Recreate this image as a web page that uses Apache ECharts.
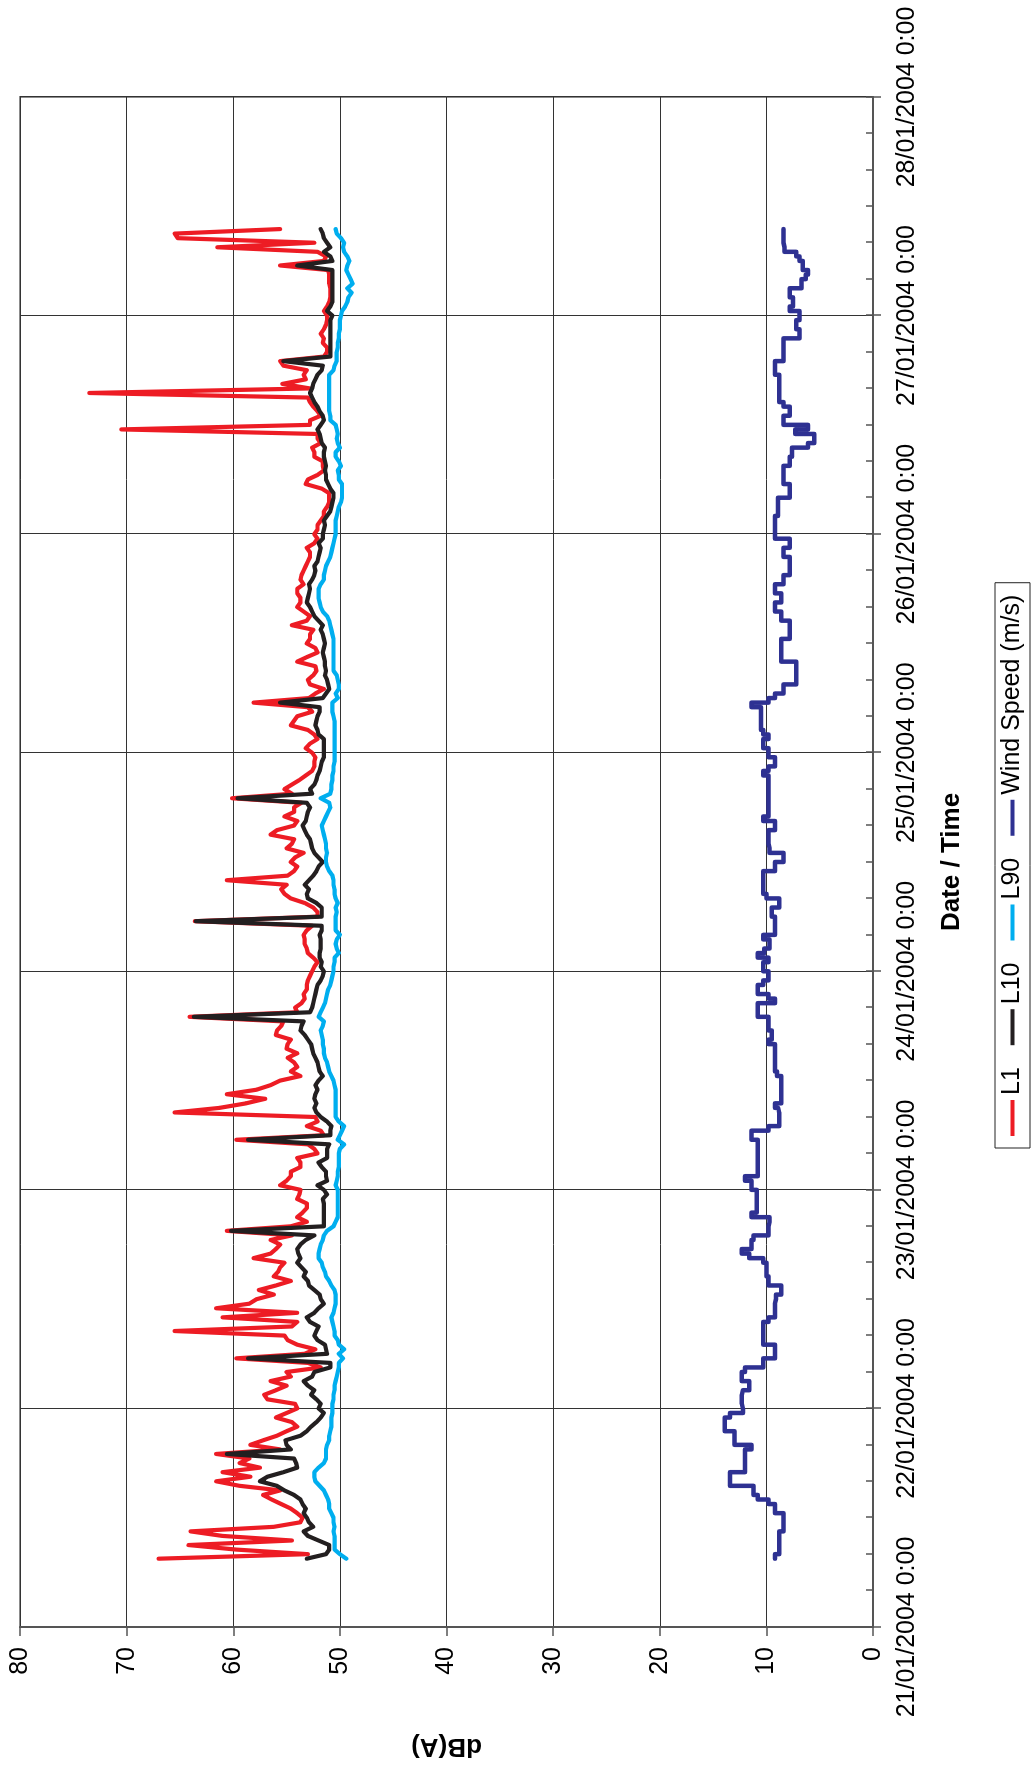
<!DOCTYPE html>
<html>
<head>
<meta charset="utf-8">
<script src="https://cdn.jsdelivr.net/npm/echarts@6/dist/echarts.min.js"></script>
<style>
  html, body { margin: 0; padding: 0; background: #fff; width: 1034px; height: 1772px; overflow: hidden; }
  /* the chart is laid out landscape and turned a quarter turn anticlockwise onto the portrait page */
  #chart { position: absolute; left: 0; top: 0; width: 1772px; height: 1034px;
           transform-origin: 0 0; transform: translateY(1772px) rotate(-90deg); }
</style>
</head>
<body>
<div id="chart"></div>
<script>
// Half-hourly readings, first sample 21/01/2004 07:30 (hours counted from 21/01/2004 0:00)
const startHour = 7.5;
const stepHours = 0.5;

const dayLabels = ['21/01/2004 0:00', '22/01/2004 0:00', '23/01/2004 0:00', '24/01/2004 0:00',
                   '25/01/2004 0:00', '26/01/2004 0:00', '27/01/2004 0:00', '28/01/2004 0:00'];

const seriesNames = ['L1', 'L10', 'L90', 'Wind Speed (m/s)'];

// L1, dB(A) — one row per six hours
const l1 = [
  67.0, 53.0, 59.7, 64.2, 54.5, 61.0, 64.0, 56.2, 53.7, 53.5, 54.0, 54.6,
  55.5, 56.4, 57.2, 55.6, 59.4, 61.6, 58.4, 61.0, 57.5, 59.4, 58.5, 61.6,
  55.6, 58.4, 57.2, 55.9, 55.0, 54.0, 54.5, 56.0, 55.0, 54.0, 54.2, 56.8,
  57.1, 56.0, 55.0, 56.5, 54.6, 55.0, 51.8, 53.0, 59.7, 53.3, 52.3, 54.0,
  54.9, 55.2, 65.5, 54.5, 54.0, 61.0, 54.0, 61.6, 58.5, 57.8, 56.2, 57.6,
  56.0, 54.6, 56.2, 55.8, 55.6, 55.2, 58.1, 56.5, 56.0, 55.6, 56.5, 54.5,
  60.6, 54.6, 53.1, 54.0, 53.5, 53.1, 53.1, 54.0, 53.8, 53.7, 55.6, 55.0,
  54.6, 54.6, 53.7, 53.7, 54.0, 52.1, 52.4, 53.0, 59.7, 51.5, 51.8, 53.1,
  52.1, 52.3, 65.5, 61.3, 58.8, 57.0, 60.6, 57.8, 56.5, 55.6, 53.7, 54.6,
  54.0, 54.3, 54.9, 54.0, 55.0, 54.9, 54.6, 56.0, 55.9, 55.5, 55.3, 64.1,
  54.0, 54.2, 53.6, 53.3, 53.4, 53.1, 53.1, 53.0, 52.8, 52.6, 52.4, 52.1,
  52.5, 53.0, 53.1, 53.3, 53.3, 53.4, 53.1, 52.6, 63.6, 52.1, 52.1, 52.5,
  53.3, 54.6, 55.2, 55.5, 55.0, 60.6, 54.9, 54.3, 54.0, 54.6, 54.2, 53.4,
  55.0, 54.5, 54.3, 56.5, 55.9, 54.3, 54.0, 55.2, 54.3, 54.3, 53.6, 60.1,
  54.5, 55.2, 54.5, 53.8, 53.2, 52.6, 52.4, 52.4, 52.3, 52.6, 53.2, 52.8,
  52.1, 52.4, 53.0, 54.6, 54.3, 54.0, 52.6, 53.0, 58.1, 52.9, 52.3, 51.5,
  52.8, 53.0, 52.5, 52.2, 52.3, 54.0, 53.1, 52.1, 52.3, 53.1, 52.8, 52.8,
  52.5, 54.5, 53.1, 52.8, 53.4, 54.0, 53.7, 53.7, 54.0, 54.0, 53.4, 53.7,
  53.6, 53.4, 53.2, 53.0, 52.8, 52.8, 53.1, 52.4, 52.1, 52.4, 52.1, 52.1,
  51.8, 51.5, 51.5, 51.2, 51.0, 51.0, 51.0, 51.7, 53.2, 53.0, 52.1, 51.5,
  51.6, 51.6, 52.4, 52.4, 52.6, 51.8, 52.1, 52.1, 70.5, 52.8, 52.8, 51.8,
  52.1, 52.5, 52.8, 53.0, 73.5, 52.8, 55.4, 53.2, 53.4, 53.1, 55.3, 55.6,
  51.5, 51.2, 51.2, 51.6, 51.5, 51.8, 51.5, 51.3, 51.2, 51.2, 51.5, 51.2,
  51.0, 50.9, 50.9, 50.9, 51.0, 51.0, 51.0, 51.1, 55.6, 51.5, 51.3, 52.1,
  61.5, 52.4, 65.2, 65.5, 55.6
];

// L10, dB(A)
const l10 = [
  53.1, 51.3, 51.0, 51.0, 52.0, 53.0, 53.4, 52.5, 52.9, 53.1, 53.4, 53.2,
  53.5, 53.7, 54.3, 55.2, 55.9, 57.5, 56.8, 55.3, 54.0, 54.1, 54.3, 60.6,
  54.6, 55.0, 55.1, 53.7, 53.1, 52.7, 52.2, 51.8, 51.5, 52.0, 51.8, 52.2,
  52.7, 52.4, 53.0, 53.4, 52.6, 52.4, 50.9, 50.9, 58.6, 51.2, 51.3, 51.4,
  52.1, 52.4, 52.2, 52.0, 52.8, 53.1, 52.4, 52.0, 51.5, 51.8, 51.9, 52.4,
  52.9, 53.0, 53.4, 53.2, 53.6, 54.0, 53.7, 53.9, 54.0, 53.7, 53.2, 52.4,
  60.2, 51.5, 51.5, 51.5, 51.5, 51.5, 51.5, 51.6, 51.2, 51.5, 52.1, 51.2,
  51.3, 51.3, 51.7, 52.0, 51.2, 51.2, 51.2, 51.0, 58.6, 50.9, 50.9, 50.8,
  51.2, 51.8, 52.2, 52.4, 52.2, 52.4, 52.3, 52.1, 52.3, 52.0, 51.6, 51.9,
  52.0, 52.1, 52.3, 52.5, 52.6, 52.7, 53.0, 53.3, 53.7, 53.6, 53.4, 63.7,
  52.8, 52.6, 52.5, 52.4, 52.3, 52.2, 52.1, 51.8, 51.6, 51.5, 51.8, 51.7,
  51.9, 51.9, 51.8, 51.8, 51.8, 51.9, 51.7, 51.7, 63.5, 51.7, 51.7, 51.7,
  52.2, 53.0, 53.1, 52.9, 53.3, 52.9, 52.5, 52.2, 52.0, 51.6, 52.0, 52.4,
  52.6, 52.7, 52.8, 53.1, 53.3, 53.5, 53.2, 53.1, 53.0, 52.8, 53.1, 59.6,
  52.6, 52.8, 52.4, 52.2, 52.1, 51.9, 51.8, 51.7, 51.5, 51.5, 51.5, 51.5,
  51.5, 52.0, 52.1, 52.3, 52.2, 52.1, 51.9, 51.9, 55.6, 51.6, 51.3, 51.0,
  51.1, 51.2, 51.4, 51.3, 51.4, 51.4, 51.5, 51.6, 51.5, 51.4, 51.5, 51.6,
  51.8, 51.6, 52.0, 52.4, 52.6, 52.8, 53.1, 53.0, 52.9, 52.8, 52.9, 52.6,
  52.4, 52.3, 52.4, 52.1, 52.0, 51.9, 51.8, 52.0, 51.6, 51.6, 51.5, 51.4,
  51.5, 51.2, 50.9, 50.8, 50.7, 50.6, 50.6, 50.9, 51.1, 51.3, 51.3, 51.4,
  51.3, 51.4, 51.5, 51.5, 51.4, 51.7, 51.8, 51.9, 52.1, 51.8, 51.5, 51.6,
  51.9, 52.1, 52.4, 52.6, 52.8, 52.6, 52.5, 52.3, 52.1, 51.7, 51.6, 55.3,
  50.9, 50.9, 50.9, 50.9, 50.9, 50.9, 50.9, 50.9, 50.9, 50.7, 51.2, 50.9,
  50.7, 50.7, 50.7, 50.7, 50.7, 50.7, 50.7, 50.7, 54.0, 50.7, 50.9, 51.5,
  50.9, 51.2, 51.5, 51.6, 51.8
];

// L90, dB(A)
const l90 = [
  49.4, 50.0, 50.5, 50.5, 50.5, 50.5, 50.6, 50.5, 50.6, 50.6, 50.8, 51.0,
  51.0, 51.1, 51.3, 51.5, 51.9, 52.3, 52.4, 52.4, 52.0, 51.5, 51.3, 51.3,
  51.3, 51.2, 51.0, 51.0, 50.9, 50.8, 50.8, 50.8, 50.7, 50.7, 50.7, 50.6,
  50.6, 50.5, 50.5, 50.4, 50.3, 50.2, 50.1, 50.1, 49.7, 50.1, 49.6, 50.1,
  50.2, 50.5, 50.5, 50.6, 50.7, 50.8, 50.6, 50.5, 50.4, 50.4, 50.4, 50.5,
  50.8, 51.0, 51.3, 51.4, 51.6, 51.7, 52.0, 52.0, 51.9, 51.8, 51.6, 51.5,
  51.2, 50.6, 50.4, 50.2, 50.2, 50.2, 50.2, 50.2, 50.2, 50.2, 50.4, 50.3,
  50.2, 50.2, 50.1, 50.1, 50.1, 50.1, 50.0, 49.6, 50.2, 50.0, 49.8, 49.6,
  50.1, 50.4, 50.4, 50.4, 50.4, 50.4, 50.4, 50.4, 50.5, 50.6, 50.8, 51.0,
  51.1, 51.2, 51.4, 51.5, 51.5, 51.6, 51.6, 51.7, 51.8, 51.6, 51.5, 52.0,
  51.8, 51.6, 51.4, 51.3, 51.2, 51.1, 50.9, 50.8, 50.7, 50.6, 50.6, 50.5,
  50.5, 50.1, 50.3, 50.4, 50.3, 50.0, 50.4, 50.4, 50.4, 50.4, 50.3, 50.4,
  50.2, 50.4, 50.5, 50.5, 50.6, 50.6, 50.7, 51.0, 51.2, 51.3, 51.3, 51.2,
  51.3, 51.3, 51.4, 51.5, 51.6, 51.7, 51.5, 51.3, 51.1, 50.9, 51.0, 51.8,
  50.9, 50.8, 50.8, 50.7, 50.7, 50.6, 50.6, 50.5, 50.5, 50.5, 50.5, 50.5,
  50.5, 50.5, 50.5, 50.5, 50.5, 50.6, 50.7, 50.7, 50.7, 50.2, 50.4, 50.1,
  50.1, 50.2, 50.3, 50.6, 50.6, 50.6, 50.6, 50.6, 50.6, 50.6, 50.6, 50.7,
  50.8, 50.9, 51.0, 51.2, 51.6, 51.8, 51.9, 52.0, 52.0, 52.0, 51.8, 51.5,
  51.5, 51.4, 51.3, 51.1, 50.9, 50.8, 50.7, 50.6, 50.5, 50.4, 50.4, 50.4,
  50.4, 50.3, 50.2, 50.1, 49.9, 49.8, 49.8, 49.8, 49.8, 50.1, 50.1, 50.2,
  49.9, 50.1, 50.4, 50.4, 50.0, 50.2, 50.3, 50.2, 50.3, 50.4, 50.9, 50.9,
  51.0, 51.0, 51.0, 51.0, 51.0, 51.0, 51.0, 51.0, 51.0, 50.6, 50.5, 50.3,
  50.3, 50.3, 50.2, 50.2, 50.1, 50.1, 50.0, 50.0, 50.0, 49.9, 49.8, 49.5,
  49.3, 49.2, 48.9, 49.3, 48.8, 49.0, 49.2, 49.4, 49.3, 49.1, 49.3, 49.6,
  49.7, 49.6, 49.9, 50.3, 50.4
];

// Wind speed, m/s
const wind = [
   9.2,  8.8,  8.8,  8.8,  8.8,  8.8,  8.4,  8.4,  8.4,  8.4,  9.2,  9.2,
   9.8, 10.8, 11.2, 11.2, 13.4, 13.4, 13.4, 12.0, 12.0, 12.0, 12.0, 12.0,
  11.4, 13.0, 13.0, 13.0, 13.9, 13.9, 13.9, 13.4, 12.2, 12.3, 12.3, 12.3,
  12.2, 11.6, 11.6, 12.3, 12.3, 12.0, 10.3, 10.3,  9.2,  9.2,  9.2, 10.3,
  10.3, 10.3, 10.3, 10.3,  9.8,  9.2,  9.2,  9.2,  9.1,  9.1,  8.6,  8.6,
   9.8,  9.8, 10.0, 10.0, 10.0, 10.3, 11.6, 12.3, 11.4, 11.4, 11.2,  9.8,
   9.8,  9.7,  9.7, 11.4, 10.9, 10.9, 10.9, 10.9, 10.9, 11.4, 11.4, 12.0,
  10.8, 10.8, 10.8, 10.8, 10.8, 10.8, 10.8, 10.8, 11.4, 11.4,  9.8,  8.8,
   8.8,  8.8,  8.9,  9.2,  8.6,  8.6,  8.6,  8.6,  8.6,  8.6,  9.0,  9.2,
   9.2,  9.2,  9.2,  9.2,  9.2,  9.8,  9.5,  9.5,  9.8,  9.8,  9.8, 10.8,
  10.8, 10.8,  9.2,  9.8, 10.8, 10.8, 10.3,  9.8,  9.8, 10.3, 10.3,  9.8,
  10.8, 10.2,  9.7,  9.7, 10.3,  9.2,  9.2,  9.2,  9.2,  9.5,  9.5,  8.8,
   8.8, 10.0, 10.3, 10.3, 10.3, 10.3, 10.3,  9.2,  9.2,  8.4,  8.4,  9.7,
   9.8,  9.8,  9.8,  9.8,  9.2,  9.2, 10.3,  9.8,  9.8,  9.8,  9.8,  9.8,
   9.8,  9.8,  9.8,  9.8, 10.3,  9.8,  9.2,  9.2,  9.8,  9.8, 10.3, 10.3,
   9.8, 10.3, 10.5, 10.5, 10.5, 10.5, 10.5, 11.4,  9.8,  9.2,  8.4,  8.4,
   7.2,  7.2,  7.2,  7.2,  7.2,  8.6,  8.6,  8.6,  8.6,  8.6,  7.8,  7.8,
   7.8,  7.8,  8.6,  8.6,  9.2,  9.2,  8.6,  8.6,  9.2,  9.2,  8.4,  8.4,
   7.8,  7.8,  7.8,  7.8,  8.4,  8.4,  7.8,  7.8,  9.2,  9.2,  9.2,  9.2,
   9.2,  8.9,  8.9,  8.9,  8.9,  7.8,  7.8,  7.8,  8.4,  8.4,  8.4,  8.4,
   7.8,  7.8,  7.6,  7.6,  6.1,  5.5,  5.5,  7.3,  6.1,  8.4,  8.4,  7.8,
   7.8,  8.4,  8.8,  8.8,  8.8,  8.8,  8.8,  8.8,  9.2,  9.2,  9.2,  8.4,
   8.4,  8.4,  8.4,  8.4,  6.9,  6.9,  7.2,  7.2,  6.9,  6.9,  7.8,  7.5,
   7.5,  7.8,  7.8,  6.7,  6.7,  6.3,  6.1,  6.6,  6.6,  6.9,  7.2,  8.3,
   8.4,  8.4,  8.4,  8.4,  8.4
];

const FONT = '"Liberation Sans", Arial, Helvetica, sans-serif';
const COLORS = ['#ED1C24', '#231F20', '#00AEEF', '#2E3192'];

// pair each reading with its hour offset on the time axis
const withHours = vals => vals.map((v, i) => [startHour + i * stepHours, v]);

function lineSeries(name, vals, color, width, extra) {
  return Object.assign({
    name: name,
    type: 'line',
    xAxisIndex: 0,
    data: withHours(vals),
    symbol: 'none',
    showSymbol: false,
    sampling: 'none',
    smooth: false,
    lineStyle: { color: color, width: width, join: 'round', cap: 'round' },
    itemStyle: { color: color },
    emphasis: { disabled: true },
    z: 3
  }, extra || {});
}

const chart = echarts.init(document.getElementById('chart'), null, { renderer: 'canvas' });

chart.setOption({
  animation: false,
  backgroundColor: '#ffffff',
  grid: {
    left: 145, right: 97, top: 20, bottom: 161,
    show: true, borderColor: '#8c8c8c', borderWidth: 2, backgroundColor: 'transparent'
  },
  legend: {
    data: seriesNames.map((n, i) => ({ name: n, icon: 'rect', itemStyle: { color: COLORS[i] } })),
    orient: 'horizontal',
    left: 624, top: 995,
    padding: [5, 12, 5, 12],
    itemWidth: 36, itemHeight: 4, itemGap: 22,
    borderColor: '#222', borderWidth: 1,
    textStyle: { fontFamily: FONT, fontSize: 25, color: '#000' }
  },
  xAxis: [
    {
      type: 'value', min: 0, max: 168, interval: 24,
      name: 'Date / Time', nameLocation: 'middle', nameGap: 66,
      nameTextStyle: { fontFamily: FONT, fontSize: 26, fontWeight: 'bold', color: '#000' },
      axisLine: { onZero: false, lineStyle: { color: '#555', width: 2 } },
      axisTick: { show: true, inside: false, length: 8, lineStyle: { color: '#555', width: 1.5 } },
      axisLabel: {
        margin: 22, fontFamily: FONT, fontSize: 25, color: '#000',
        formatter: v => dayLabels[Math.round(v / 24)]
      },
      splitLine: { show: true, lineStyle: { color: '#333', width: 1 } }
    },
    {
      // four-hourly minor ticks on the inside of the time axis
      type: 'value', min: 0, max: 168, interval: 4, position: 'bottom', gridIndex: 0,
      axisLine: { show: false },
      axisLabel: { show: false },
      splitLine: { show: false },
      axisTick: { show: true, inside: true, length: 7, lineStyle: { color: '#555', width: 1.5 } }
    }
  ],
  yAxis: {
    type: 'value', min: 0, max: 80, interval: 10,
    name: 'dB(A)', nameLocation: 'middle', nameGap: 106, nameRotate: 90,
    nameTextStyle: { fontFamily: FONT, fontSize: 26, fontWeight: 'bold', color: '#000' },
    axisLine: { show: true, onZero: false, lineStyle: { color: '#555', width: 2 } },
    axisTick: { show: true, inside: false, length: 9, lineStyle: { color: '#555', width: 1.5 } },
    axisLabel: { margin: 20, fontFamily: FONT, fontSize: 25, color: '#000' },
    splitLine: { show: true, lineStyle: { color: '#333', width: 1 } }
  },
  series: [
    lineSeries(seriesNames[0], l1, COLORS[0], 4.2),
    lineSeries(seriesNames[1], l10, COLORS[1], 4.2),
    lineSeries(seriesNames[2], l90, COLORS[2], 4.2),
    lineSeries(seriesNames[3], wind, COLORS[3], 4.5, { step: 'end' })
  ]
});
</script>
</body>
</html>
